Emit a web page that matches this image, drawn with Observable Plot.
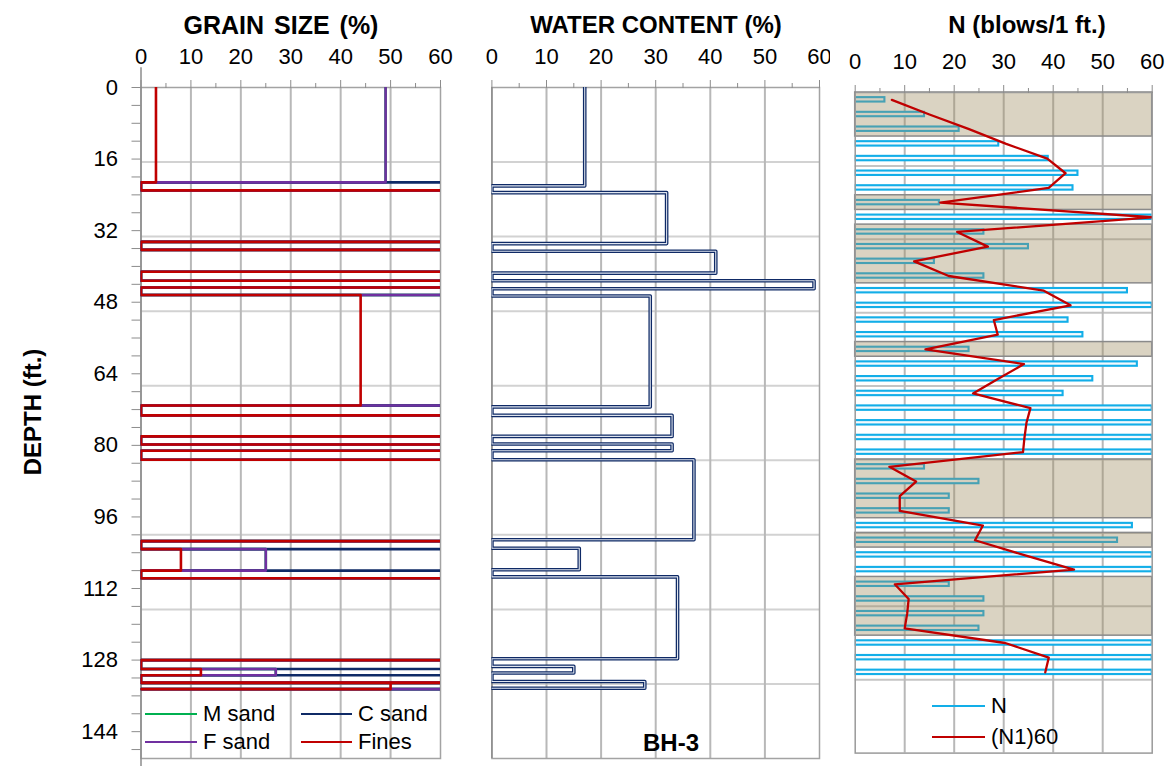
<!DOCTYPE html>
<html>
<head>
<meta charset="utf-8">
<script src="https://cdn.jsdelivr.net/npm/d3@7"></script>
<script src="https://cdn.jsdelivr.net/npm/@observablehq/plot@0.6"></script>
<style>
  body { margin: 0; background: #fff; }
  #chart { position: relative; width: 1171px; height: 769px; font-family: "Liberation Sans", Arial, sans-serif; color: #000; overflow: hidden; }
  #chart > svg { position: absolute; top: 0; }
  .lbl { position: absolute; white-space: nowrap; transform: translate(-50%, -50%); line-height: 1; }
  .title { font-weight: bold; font-size: 24px; }
  .leg { position: absolute; white-space: nowrap; font-size: 22px; line-height: 1; transform: translateY(-50%); }
  .sw { position: absolute; height: 0; border-top-style: solid; border-top-width: 2.5px; transform: translateY(-50%); }
</style>
</head>
<body>
<div id="chart"></div>
<script>
// ---- Borehole BH-3 : grain size samples (depth in ft, percent by weight) ----
const grainTop    = [0, 23.0, 36.3, 43.2, 46.4, 73.3, 79.8, 83.2, 103.2, 109.7, 130.0, 133.0, 133.1];
const grainBottom = [21.2, 34.5, 41.2, 44.7, 71.1, 78.0, 81.2, 101.4, 108.0, 128.0, 131.4, 133.1, 134.5];
const fines = [3, 100, 100, 100, 44, 100, 100, 100, 8, 100, 12, 100, 50];
const fSand = [46, 0, 0, 0, 56, 0, 0, 0, 17, 0, 15, 0, 50];
const mSand = [0, 0, 0, 0, 0, 0, 0, 0, 0, 0, 0, 0, 0];
const cSand = [51, 0, 0, 0, 0, 0, 0, 0, 75, 0, 73, 0, 0];

// ---- Water content samples (depth in ft, %) ----
const wcTop    = [0, 23.5, 36.6, 43.2, 46.6, 73.3, 79.7, 83.2, 103.0, 109.4, 129.4, 132.8];
const wcBottom = [22.0, 34.9, 41.5, 45.0, 71.4, 78.0, 81.2, 101.1, 107.8, 127.7, 130.9, 134.3];
const waterContent = [17, 32, 41, 59, 29, 33, 33, 37, 16, 34, 15, 28];

// ---- SPT blow counts (sample depth in m) ----
const sptDepth = [0.5, 1.5, 2.5, 3.5, 4.5, 5.5, 6.5, 7.5, 8.5, 9.5,
                  10.5, 11.5, 12.5, 13.5, 14.5, 15.5, 16.5, 17.5, 18.5, 19.5,
                  20.5, 21.5, 22.5, 23.5, 24.5, 25.5, 26.5, 27.5, 28.5, 29.5,
                  30.5, 31.5, 32.5, 33.5, 34.5, 35.5, 36.5, 37.5, 38.5, 39.5];
const sptN    = [6, 14, 21, 29, 39, 45, 44, 17, 60, 26,
                 35, 16, 26, 55, 60, 43, 46, 23, 57, 48,
                 42, 60, 60, 60, 60, 14, 25, 19, 19, 56,
                 53, 60, 60, 19, 26, 26, 25, 60, 60, 60];
const sptN160 = [7.4, 15, 23, 30.5, 38.8, 42.5, 39.1, 17.2, 60, 20.6,
                 26.8, 11.9, 18.9, 38.1, 43.5, 28.0, 28.8, 14.2, 34.1, 28.9,
                 23.8, 35.4, 34.6, 34.2, 33.9, 6.9, 12.3, 9.0, 9.0, 25.8,
                 24.2, 34, 44.2, 8.0, 10.8, 10.5, 10.0, 30.3, 39.1, 38.4];
// cohesive (clay) layers shaded in the SPT log (m)
const clayTop    = [0, 7, 9, 17, 25, 30, 33];
const clayBottom = [3, 8, 13, 18, 29, 31, 37];

// ---- axis ticks ----
const pctTicks = [0, 10, 20, 30, 40, 50, 60];
const pctMinor = [5, 15, 25, 35, 45, 55];
const depthTicks = [0, 16, 32, 48, 64, 80, 96, 112, 128, 144];
const depthMinor = d3.range(0, 149, 4);
const depthGrid = d3.range(1, 9).map(i => i * 150 / 9);
const sptGrid = [5, 10, 15, 20, 25, 30, 35, 40];

const FONT = '"Liberation Sans", Arial, sans-serif';
const COLORS = {m: "#00b050", c: "#0f2a66", f: "#7030a0", fines: "#c00000", wc: "#0f2a66", n: "#12aee8", n160: "#c00000"};

// step profile: each sample drawn as an excursion from 0 to its value over its depth interval
function profile(tops, bottoms, values) {
  const pts = [];
  tops.forEach((t, i) => {
    if (t > 0) pts.push({x: 0, y: t});
    pts.push({x: values[i], y: t}, {x: values[i], y: bottoms[i]}, {x: 0, y: bottoms[i]});
  });
  return pts;
}

const cumFines = fines;
const cumF = fines.map((v, i) => v + fSand[i]);
const cumM = cumF.map((v, i) => v + mSand[i]);
const cumC = cumM.map((v, i) => v + cSand[i]);

const baseStyle = {fontFamily: FONT, fontSize: "22px", color: "#000", background: "#fff", overflow: "visible"};

function topAxes() {
  return [
    Plot.axisX({anchor: "top", ticks: pctMinor, tickSize: 5, tickFormat: () => "", stroke: "#8c8c8c", label: null}),
    Plot.axisX({anchor: "top", ticks: pctTicks, tickSize: 8, tickPadding: 16, stroke: "#8c8c8c", fill: "#000", label: null})
  ];
}

// ---------- GRAIN SIZE ----------
const grain = Plot.plot({
  width: 460, height: 769,
  marginLeft: 140.5, marginRight: 20, marginTop: 87, marginBottom: 11,
  x: {domain: [0, 60], axis: null},
  y: {domain: [0, 150], reverse: true, axis: null},
  style: baseStyle,
  marks: [
    Plot.ruleY(depthGrid, {stroke: "#d2d2d2", strokeWidth: 2}),
    Plot.ruleX([10, 20, 30, 40, 50], {stroke: "#b8b8b8", strokeWidth: 2}),
    Plot.frame({stroke: "#a3a3a3", strokeWidth: 1.5}),
    ...topAxes(),
    Plot.axisY({anchor: "left", ticks: depthMinor, tickSize: 9, tickFormat: () => "", stroke: "#8c8c8c", label: null}),
    Plot.axisY({anchor: "left", ticks: depthTicks, tickSize: 0, tickPadding: 23, fill: "#000", label: null}),
    Plot.ruleX([0], {y1: -4.4, y2: 151.8, stroke: "#8c8c8c", strokeWidth: 1.5}),
    Plot.line(profile(grainTop, grainBottom, cumM), {x: "x", y: "y", stroke: COLORS.m, strokeWidth: 2.6, clip: true}),
    Plot.line(profile(grainTop, grainBottom, cumC), {x: "x", y: "y", stroke: COLORS.c, strokeWidth: 2.6, clip: true}),
    Plot.line(profile(grainTop, grainBottom, cumF), {x: "x", y: "y", stroke: COLORS.f, strokeWidth: 2.6, clip: true}),
    Plot.line(profile(grainTop, grainBottom, cumFines), {x: "x", y: "y", stroke: COLORS.fines, strokeWidth: 2.6, clip: true})
  ]
});
grain.style.left = "0px";

// ---------- WATER CONTENT ----------
const wcPts = profile(wcTop, wcBottom, waterContent);
const water = Plot.plot({
  width: 370, height: 769,
  marginLeft: 31.4, marginRight: 11, marginTop: 87, marginBottom: 11,
  x: {domain: [0, 60], axis: null},
  y: {domain: [0, 150], reverse: true, axis: null},
  style: baseStyle,
  marks: [
    Plot.ruleY(depthGrid, {stroke: "#d2d2d2", strokeWidth: 2}),
    Plot.ruleX([10, 20, 30, 40, 50], {stroke: "#b8b8b8", strokeWidth: 2}),
    Plot.frame({stroke: "#a3a3a3", strokeWidth: 1.5}),
    ...topAxes(),
    Plot.ruleX([0], {stroke: "#8c8c8c", strokeWidth: 1.5}),
    Plot.line(wcPts, {x: "x", y: "y", stroke: COLORS.wc, strokeWidth: 3.6, clip: true}),
    Plot.line(wcPts, {x: "x", y: "y", stroke: "#dfe5ef", strokeWidth: 1.1, clip: true})
  ]
});
water.style.left = "460px";

// ---------- SPT N ----------
const spt = sptDepth.map((d, i) => ({depth: d, n: sptN[i], n160: sptN160[i]}));
const clay = clayTop.map((t, i) => ({top: t, bottom: clayBottom[i]}));
const nPlot = Plot.plot({
  width: 341, height: 769,
  marginLeft: 24.7, marginRight: 19.3, marginTop: 92, marginBottom: 16.4,
  x: {domain: [0, 60], axis: null},
  y: {domain: [0, 45], reverse: true, axis: null},
  style: baseStyle,
  marks: [
    Plot.ruleY(sptGrid, {stroke: "#c4c4c4", strokeWidth: 2}),
    Plot.ruleX([10, 20, 30, 40, 50], {stroke: "#b8b8b8", strokeWidth: 2}),
    Plot.rect(spt, {x1: () => 0, x2: "n", y1: d => d.depth - 0.15, y2: d => d.depth + 0.15,
      fill: "#f4f9fc", stroke: COLORS.n, strokeWidth: 2.1, clip: true}),
    Plot.rect(clay, {x1: () => 0, x2: () => 60, y1: "top", y2: "bottom",
      fill: "#9e8b5f", fillOpacity: 0.38, stroke: "#8a8a8a", strokeWidth: 1.5}),
    Plot.frame({stroke: "#9a9a9a", strokeWidth: 1.5}),
    ...topAxes(),
    Plot.line(spt, {x: "n160", y: "depth", stroke: COLORS.n160, strokeWidth: 2.3, clip: true})
  ]
});
nPlot.style.left = "830px";

const chart = document.getElementById("chart");
chart.append(grain, water, nPlot);

// ---------- titles, labels and legends ----------
function label(text, x, y, cls, extra = "") {
  const el = document.createElement("div");
  el.className = "lbl " + cls;
  el.textContent = text;
  el.style.cssText = `left:${x}px;top:${y}px;${extra}`;
  chart.append(el);
}
label("GRAIN SIZE (%)", 281, 25, "title", "font-size:25px;word-spacing:3px;");
label("WATER CONTENT (%)", 656, 25, "title");
label("N (blows/1 ft.)", 1027, 25, "title");
label("DEPTH (ft.)", 33, 412, "title", "transform:translate(-50%,-50%) rotate(-90deg);");
label("BH-3", 671, 743, "title");

function legendItem(text, color, x, y, len) {
  const sw = document.createElement("div");
  sw.className = "sw";
  sw.style.cssText = `left:${x}px;top:${y}px;width:${len}px;border-top-color:${color};`;
  const t = document.createElement("div");
  t.className = "leg";
  t.textContent = text;
  t.style.cssText = `left:${x + len + 6}px;top:${y}px;`;
  chart.append(sw, t);
}
legendItem("M sand", COLORS.m, 145, 714, 52);
legendItem("C sand", COLORS.c, 301, 714, 51);
legendItem("F sand", COLORS.f, 145, 742, 52);
legendItem("Fines", COLORS.fines, 301, 742, 51);
legendItem("N", COLORS.n, 932, 706, 53);
legendItem("(N1)60", COLORS.n160, 932, 737, 53);
</script>
</body>
</html>
